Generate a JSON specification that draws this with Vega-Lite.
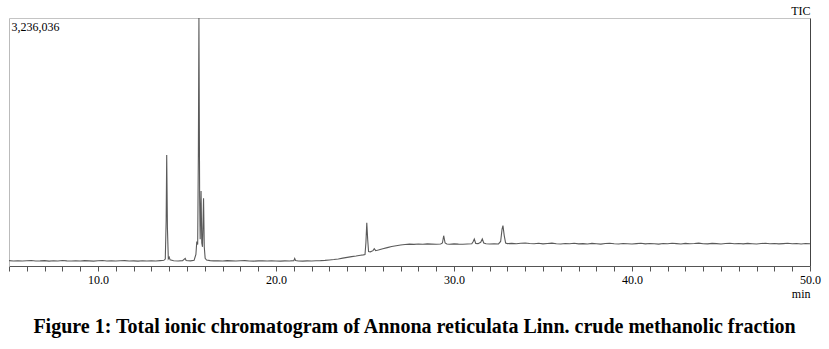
{
  "$schema": "https://vega.github.io/schema/vega-lite/v6.json",
  "autosize": {"type": "none"},
  "width": 801,
  "height": 248,
  "padding": {"left": 9, "top": 18, "right": 19, "bottom": 83},
  "background": "white",
  "config": {"view": {"stroke": null}},
  "title": {
    "text": "Figure 1: Total ionic chromatogram of Annona reticulata Linn. crude methanolic fraction",
    "orient": "bottom",
    "anchor": "middle",
    "font": "Liberation Serif",
    "fontSize": 20,
    "fontWeight": "bold",
    "color": "black",
    "offset": 18,
    "dx": 5
  },
  "data": {"values": [
    {"t":5.0,"v":70000},{"t":5.25,"v":66000},{"t":5.5,"v":69000},{"t":5.75,"v":65000},{"t":6.0,"v":68000},{"t":6.25,"v":71000},{"t":6.5,"v":66000},{"t":6.75,"v":67000},{"t":7.0,"v":70000},{"t":7.25,"v":64000},{"t":7.5,"v":68000},{"t":7.75,"v":66000},{"t":8.0,"v":71000},{"t":8.25,"v":67000},{"t":8.5,"v":65000},{"t":8.75,"v":69000},{"t":9.0,"v":66000},{"t":9.25,"v":70000},{"t":9.5,"v":67000},{"t":9.75,"v":64000},{"t":10.0,"v":68000},{"t":10.25,"v":71000},{"t":10.5,"v":66000},{"t":10.75,"v":69000},{"t":11.0,"v":65000},{"t":11.25,"v":68000},{"t":11.5,"v":70000},{"t":11.75,"v":66000},{"t":12.0,"v":67000},{"t":12.25,"v":64000},{"t":12.5,"v":69000},{"t":12.75,"v":66000},{"t":13.0,"v":68000},{"t":13.25,"v":65000},{"t":13.5,"v":70000},{"t":13.7,"v":74000},{"t":13.78,"v":90000},{"t":13.83,"v":600000},{"t":13.86,"v":1448000},{"t":13.9,"v":500000},{"t":13.95,"v":95000},{"t":14.0,"v":115000},{"t":14.05,"v":80000},{"t":14.25,"v":68000},{"t":14.5,"v":66000},{"t":14.75,"v":70000},{"t":14.9,"v":100000},{"t":14.95,"v":72000},{"t":15.2,"v":67000},{"t":15.4,"v":75000},{"t":15.5,"v":150000},{"t":15.55,"v":320000},{"t":15.6,"v":280000},{"t":15.64,"v":1500000},{"t":15.67,"v":3236036},{"t":15.71,"v":900000},{"t":15.74,"v":350000},{"t":15.79,"v":980000},{"t":15.83,"v":300000},{"t":15.87,"v":250000},{"t":15.93,"v":885000},{"t":15.97,"v":250000},{"t":16.02,"v":100000},{"t":16.1,"v":78000},{"t":16.3,"v":70000},{"t":16.5,"v":67000},{"t":16.75,"v":69000},{"t":17.0,"v":66000},{"t":17.25,"v":70000},{"t":17.5,"v":67000},{"t":17.75,"v":65000},{"t":18.0,"v":68000},{"t":18.25,"v":70000},{"t":18.5,"v":66000},{"t":18.75,"v":64000},{"t":19.0,"v":67000},{"t":19.25,"v":69000},{"t":19.5,"v":65000},{"t":19.75,"v":68000},{"t":20.0,"v":66000},{"t":20.25,"v":63000},{"t":20.5,"v":67000},{"t":20.75,"v":65000},{"t":21.0,"v":70000},{"t":21.05,"v":98000},{"t":21.1,"v":72000},{"t":21.25,"v":66000},{"t":21.5,"v":64000},{"t":21.75,"v":67000},{"t":22.0,"v":65000},{"t":22.25,"v":69000},{"t":22.5,"v":70000},{"t":22.75,"v":73000},{"t":23.0,"v":78000},{"t":23.25,"v":84000},{"t":23.5,"v":92000},{"t":23.75,"v":103000},{"t":24.0,"v":112000},{"t":24.25,"v":122000},{"t":24.5,"v":130000},{"t":24.75,"v":140000},{"t":24.9,"v":145000},{"t":25.0,"v":150000},{"t":25.05,"v":300000},{"t":25.1,"v":565000},{"t":25.15,"v":350000},{"t":25.2,"v":190000},{"t":25.3,"v":185000},{"t":25.45,"v":200000},{"t":25.52,"v":225000},{"t":25.6,"v":200000},{"t":25.75,"v":208000},{"t":26.0,"v":225000},{"t":26.25,"v":240000},{"t":26.5,"v":255000},{"t":26.75,"v":265000},{"t":27.0,"v":275000},{"t":27.25,"v":280000},{"t":27.5,"v":285000},{"t":27.75,"v":282000},{"t":28.0,"v":288000},{"t":28.25,"v":284000},{"t":28.5,"v":289000},{"t":28.75,"v":286000},{"t":29.0,"v":283000},{"t":29.25,"v":288000},{"t":29.35,"v":300000},{"t":29.42,"v":395000},{"t":29.5,"v":300000},{"t":29.6,"v":287000},{"t":29.75,"v":284000},{"t":30.0,"v":289000},{"t":30.25,"v":285000},{"t":30.5,"v":283000},{"t":30.75,"v":288000},{"t":31.0,"v":290000},{"t":31.08,"v":320000},{"t":31.14,"v":352000},{"t":31.22,"v":295000},{"t":31.35,"v":292000},{"t":31.5,"v":310000},{"t":31.59,"v":352000},{"t":31.67,"v":300000},{"t":31.8,"v":290000},{"t":32.0,"v":287000},{"t":32.25,"v":291000},{"t":32.5,"v":288000},{"t":32.62,"v":320000},{"t":32.7,"v":480000},{"t":32.75,"v":528000},{"t":32.82,"v":400000},{"t":32.9,"v":300000},{"t":33.0,"v":292000},{"t":33.25,"v":295000},{"t":33.5,"v":290000},{"t":33.75,"v":297000},{"t":34.0,"v":300000},{"t":34.25,"v":294000},
    {"t":34.5,"v":291000},{"t":34.75,"v":296000},{"t":35.0,"v":289000},{"t":35.25,"v":293000},{"t":35.5,"v":298000},{"t":35.75,"v":290000},{"t":36.0,"v":287000},{"t":36.25,"v":294000},{"t":36.5,"v":291000},{"t":36.75,"v":296000},{"t":37.0,"v":289000},{"t":37.25,"v":292000},{"t":37.5,"v":288000},{"t":37.75,"v":295000},{"t":38.0,"v":290000},{"t":38.25,"v":286000},{"t":38.5,"v":293000},{"t":38.75,"v":297000},{"t":39.0,"v":291000},{"t":39.25,"v":288000},{"t":39.5,"v":294000},{"t":39.75,"v":290000},{"t":40.0,"v":287000},{"t":40.25,"v":292000},{"t":40.5,"v":296000},{"t":40.75,"v":289000},{"t":41.0,"v":293000},{"t":41.25,"v":290000},{"t":41.5,"v":286000},{"t":41.75,"v":294000},{"t":42.0,"v":291000},{"t":42.25,"v":297000},{"t":42.5,"v":292000},{"t":42.75,"v":288000},{"t":43.0,"v":295000},{"t":43.25,"v":290000},{"t":43.5,"v":293000},{"t":43.75,"v":298000},{"t":44.0,"v":291000},{"t":44.25,"v":289000},{"t":44.5,"v":295000},{"t":44.75,"v":292000},{"t":45.0,"v":288000},{"t":45.25,"v":294000},{"t":45.5,"v":297000},{"t":45.75,"v":290000},{"t":46.0,"v":293000},{"t":46.25,"v":289000},{"t":46.5,"v":295000},{"t":46.75,"v":291000},{"t":47.0,"v":287000},{"t":47.25,"v":293000},{"t":47.5,"v":296000},{"t":47.75,"v":290000},{"t":48.0,"v":294000},{"t":48.25,"v":289000},{"t":48.5,"v":292000},{"t":48.75,"v":296000},{"t":49.0,"v":290000},{"t":49.25,"v":293000},{"t":49.5,"v":288000},{"t":49.75,"v":294000},{"t":50.0,"v":291000}
  ]},
  "layer": [
    {
      "mark": {"type": "line", "color": "#5a5a5a", "strokeWidth": 1.1, "clip": true},
      "encoding": {
        "x": {"field": "t", "type": "quantitative", "scale": {"domain": [5, 50], "nice": false, "zero": false},
          "axis": {"orient": "bottom", "values": [5,6,7,8,9,10,11,12,13,14,15,16,17,18,19,20,21,22,23,24,25,26,27,28,29,30,31,32,33,34,35,36,37,38,39,40,41,42,43,44,45,46,47,48,49,50],
            "labelExpr": "datum.value % 10 === 0 ? format(datum.value, '.1f') : ''",
            "grid": false, "tickSize": 5, "tickColor": "#555", "domainColor": "#555", "labelFont": "Liberation Serif", "labelFontSize": 12, "labelColor": "black", "labelPadding": 3, "labelOverlap": false, "labelFlush": false,
            "title": "min", "titleAnchor": "end", "titleAlign": "right", "titleFont": "Liberation Serif", "titleFontSize": 12, "titleFontWeight": "normal", "titleColor": "black", "titlePadding": 3}},
        "y": {"field": "v", "type": "quantitative", "scale": {"domain": [0, 3236036], "nice": false},
          "axis": {"orient": "left", "values": [3236036], "labelExpr": "format(datum.value, ',')", "grid": false, "ticks": false, "tickSize": 0, "domainColor": "#bbb",
            "labelAlign": "left", "labelBaseline": "top", "labelPadding": -2, "labelOffset": 3, "labelFlush": false, "labelFont": "Liberation Serif", "labelFontSize": 12, "labelColor": "black", "title": null}}
      }
    },
    {
      "mark": {"type": "line", "opacity": 0},
      "encoding": {
        "x": {"field": "t", "type": "quantitative",
          "axis": {"orient": "top", "labels": false, "ticks": false, "grid": false, "domainColor": "#c4c4c4",
            "title": "TIC", "titleAnchor": "end", "titleAlign": "right", "titleFont": "Liberation Serif", "titleFontSize": 12, "titleFontWeight": "normal", "titleColor": "black", "titlePadding": 1}},
        "y": {"field": "v", "type": "quantitative",
          "axis": {"orient": "right", "labels": false, "ticks": false, "grid": false, "domainColor": "#444", "title": null}}
      }
    }
  ],
  "resolve": {"axis": {"x": "independent", "y": "independent"}}
}
